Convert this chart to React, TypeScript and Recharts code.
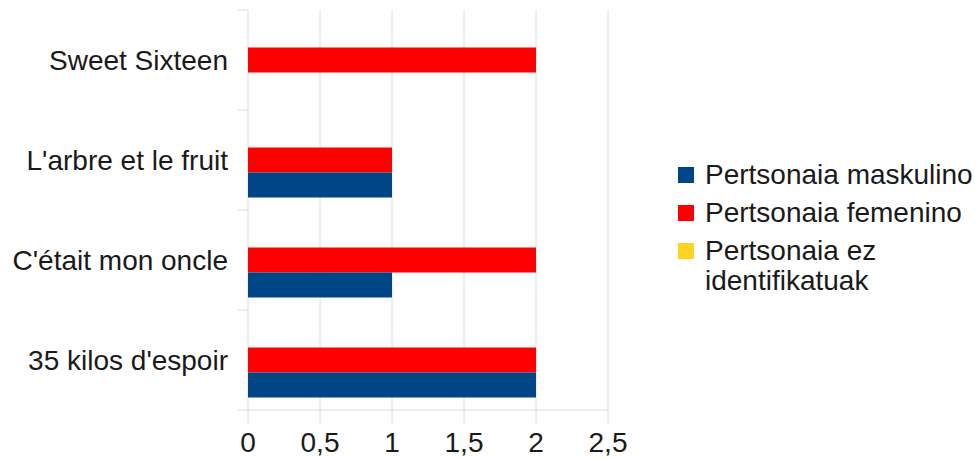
import React from 'react';
import { BarChart, Bar, XAxis, YAxis, CartesianGrid } from 'recharts';

const films = ['Sweet Sixteen', "L'arbre et le fruit", "C'était mon oncle", "35 kilos d'espoir"];
const maskulino = [0, 1, 1, 2];
const femenino = [2, 1, 2, 2];
const identifikatuGabe = [0, 0, 0, 0];
const xTicks = [0, 0.5, 1, 1.5, 2, 2.5];

const seriesNames = ['Pertsonaia maskulino', 'Pertsonaia femenino', 'Pertsonaia ez identifikatuak'];
const seriesColors = ['#004586', '#ff0000', '#ffd320'];

const data = films.map((name, i) => ({
  name,
  maskulino: maskulino[i],
  femenino: femenino[i],
  ez: identifikatuGabe[i],
}));

const font = '"Liberation Sans", Arial, sans-serif';
const gridColor = '#dcdcdc';
const textColor = '#1a1a1a';

// category label + small tick marks on the band boundaries
const FilmTick = (props: any) => {
  const { x, y, payload, index, visibleTicksCount } = props;
  const half = payload && payload.offset ? payload.offset : 50;
  const axisX = x + 20;
  const isLast = index === visibleTicksCount - 1;
  return (
    <g>
      <line x1={axisX - 11} x2={axisX} y1={y - half} y2={y - half} stroke={gridColor} />
      {isLast && <line x1={axisX - 11} x2={axisX} y1={y + half} y2={y + half} stroke={gridColor} />}
      <text x={x} y={y} dy="0.35em" textAnchor="end" fill={textColor} fontSize={28} fontFamily={font}>
        {payload.value}
      </text>
    </g>
  );
};

const LegendBox = () => (
  <div style={{ position: 'absolute', left: 678, top: 160, fontFamily: font, fontSize: 28, lineHeight: '30px', color: textColor }}>
    {seriesNames.map((n, i) => (
      <div key={n} style={{ display: 'flex', alignItems: 'flex-start', marginBottom: 8 }}>
        <div style={{ width: 16, height: 16, marginTop: 7, marginRight: 11, background: seriesColors[i], flex: 'none' }} />
        <div style={{ width: 270 }}>{n}</div>
      </div>
    ))}
  </div>
);

export default function App() {
  return (
    <div style={{ position: 'absolute', left: 0, top: 0, width: 975, height: 459, background: '#fff' }}>
      <BarChart
        width={975}
        height={459}
        data={data}
        layout="vertical"
        margin={{ top: 10, right: 367, bottom: 0, left: 0 }}
        barCategoryGap="12.5%"
        barGap={0}
      >
        <CartesianGrid vertical horizontal={false} stroke={gridColor} />
        <XAxis
          type="number"
          domain={[0, 2.5]}
          ticks={xTicks}
          interval={0}
          tickFormatter={(v: number) => String(v).replace('.', ',')}
          stroke={gridColor}
          tickSize={13}
          tickMargin={9}
          height={49}
          tick={{ fill: textColor, fontSize: 28, fontFamily: font }}
        />
        <XAxis
          xAxisId="top"
          type="number"
          orientation="top"
          domain={[0, 2.5]}
          height={0}
          tick={false}
          tickLine={false}
          stroke={gridColor}
        />
        <YAxis
          type="category"
          dataKey="name"
          width={248}
          axisLine={false}
          tickLine={false}
          tickSize={0}
          tickMargin={20}
          interval={0}
          tick={<FilmTick />}
        />
        <Bar dataKey="ez" name={seriesNames[2]} fill={seriesColors[2]} isAnimationActive={false} />
        <Bar dataKey="femenino" name={seriesNames[1]} fill={seriesColors[1]} isAnimationActive={false} />
        <Bar dataKey="maskulino" name={seriesNames[0]} fill={seriesColors[0]} isAnimationActive={false} />
      </BarChart>
      <LegendBox />
    </div>
  );
}
